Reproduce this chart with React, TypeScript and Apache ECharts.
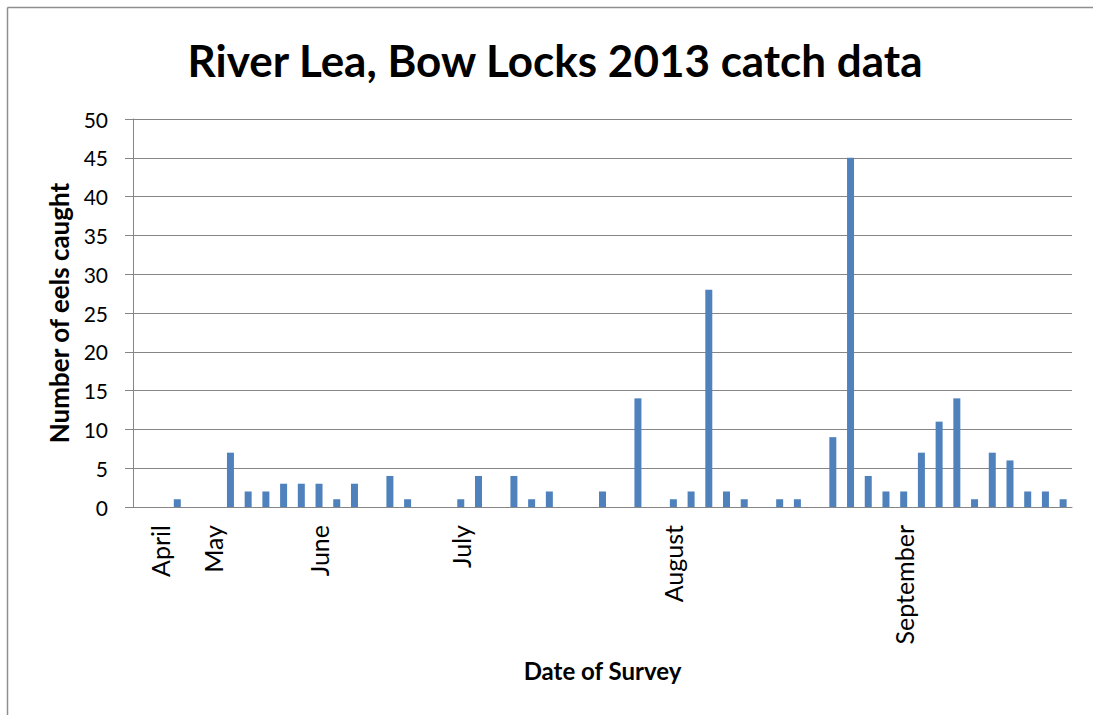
import React, { useEffect, useRef } from "react";
import * as echarts from "echarts";

// Month labels sit on specific survey slots; other slots carry no label
const SLOT_COUNT = 53;
const monthSlots = [1, 4, 10, 18, 30, 43];
const monthNames = ["April", "May", "June", "July", "August", "September"];

// Number of eels caught per survey slot (null = no survey bar)
const eelsCaught: (number | null)[] = [
  null, null, 1, null, null, 7, 2, 2, 3, 3,
  3, 1, 3, null, 4, 1, null, null, 1, 4,
  null, 4, 1, 2, null, null, 2, null, 14, null,
  1, 2, 28, 2, 1, null, 1, 1, null, 9,
  45, 4, 2, 2, 7, 11, 14, 1, 7, 6,
  2, 2, 1,
];

const yTicks = { min: 0, max: 50, interval: 5 };

const titleText = "River Lea, Bow Locks 2013 catch data";
const xTitle = "Date of Survey";
const yTitle = "Number of eels caught";

export default function App() {
  const ref = useRef<HTMLDivElement>(null);

  useEffect(() => {
    if (!ref.current) return;
    const chart = echarts.init(ref.current, undefined, { renderer: "svg" });
    const categories: string[] = [];
    for (let i = 0; i < SLOT_COUNT; i++) {
      const k = monthSlots.indexOf(i);
      categories.push(k >= 0 ? monthNames[k] : "");
    }
    const font = "Lato, 'Open Sans', sans-serif";
    const gridColor = "#868686";

    chart.setOption({
      animation: false,
      backgroundColor: "#ffffff",
      textStyle: { fontFamily: font },
      grid: { left: 133, right: 21, top: 119, bottom: 208, containLabel: false },
      graphic: [
        {
          type: "line",
          shape: { x1: 7.5, y1: 7.5, x2: 1093, y2: 7.5 },
          style: { stroke: "#8e8e8e", lineWidth: 1.5 },
        },
        {
          type: "line",
          shape: { x1: 7.5, y1: 7.5, x2: 7.5, y2: 715 },
          style: { stroke: "#8e8e8e", lineWidth: 1.5 },
        },
        {
          type: "text",
          x: 555,
          y: 60,
          style: {
            text: titleText,
            font: `bold 44px ${font}`,
            fill: "#000",
            textAlign: "center",
            textVerticalAlign: "middle",
          },
        },
      ],
      xAxis: {
        type: "category",
        data: categories,
        name: xTitle,
        nameLocation: "middle",
        nameGap: 151,
        nameTextStyle: { fontSize: 24, fontWeight: "bold", color: "#000", fontFamily: font },
        axisLine: { show: true, lineStyle: { color: gridColor, width: 1 } },
        axisTick: { show: false },
        axisLabel: {
          interval: 0,
          rotate: 90,
          margin: 18,
          fontSize: 25,
          color: "#000",
          fontFamily: font,
        },
        splitLine: { show: false },
      },
      yAxis: {
        type: "value",
        min: yTicks.min,
        max: yTicks.max,
        interval: yTicks.interval,
        name: yTitle,
        nameLocation: "middle",
        nameGap: 61,
        nameRotate: 90,
        nameTextStyle: { fontSize: 26, fontWeight: "bold", color: "#000", fontFamily: font },
        axisLine: { show: true, lineStyle: { color: gridColor, width: 1 } },
        axisTick: { show: true, inside: false, length: 8, lineStyle: { color: gridColor } },
        axisLabel: { margin: 25, fontSize: 21, color: "#000", fontFamily: font },
        splitLine: { show: true, lineStyle: { color: gridColor, width: 1 } },
      },
      series: [
        {
          type: "bar",
          data: eelsCaught,
          barWidth: 7,
          itemStyle: { color: "#4F81BD" },
        },
      ],
    });
    return () => chart.dispose();
  }, []);

  return (
    <div
      ref={ref}
      style={{ position: "absolute", left: 0, top: 0, width: 1093, height: 715 }}
    />
  );
}
